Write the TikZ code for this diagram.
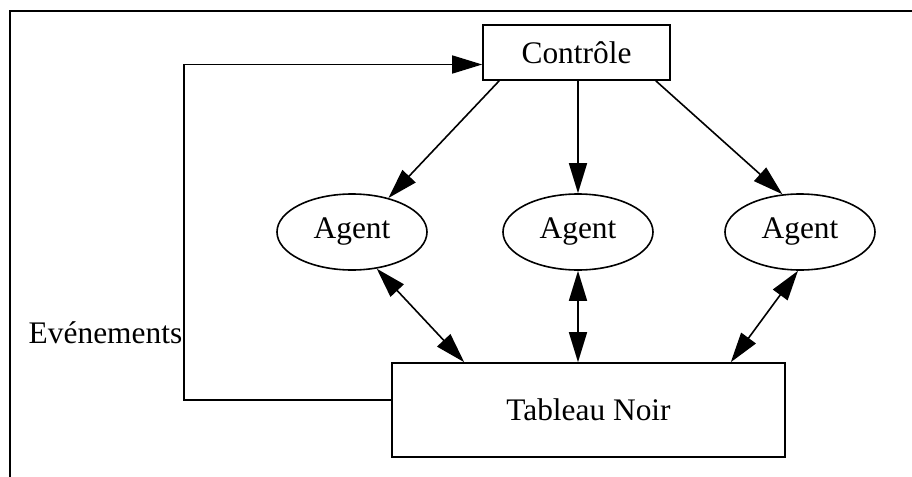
\documentclass[tikz,border=0pt]{standalone}
\usepackage{fontspec}
\setmainfont{Liberation Serif}
\usetikzlibrary{positioning,arrows.meta,shapes.geometric,calc}

\begin{document}
\begin{tikzpicture}[x=0.5pt,y=-0.5pt,line width=0.8pt,
    font=\fontsize{15.7}{19}\selectfont,
    boite/.style={draw,rectangle,inner sep=0pt},
    agent/.style={draw,ellipse,inner sep=0pt,minimum width=75pt,minimum height=38pt},
    fleche/.style={-{Triangle[length=15pt,width=9pt]}},
    double fleche/.style={{Triangle[length=15pt,width=9pt]}-{Triangle[length=15pt,width=9pt]}}]
    \useasboundingbox (0,0) rectangle (912,477);
    \draw[line width=1.2pt] (10,477) -- (10,11) -- (912,11);
    \node[boite,minimum width=93.5pt,minimum height=27.5pt] (ctrl) at (576.5,52.5) {Contrôle};
    \node[agent] (a1) at (352,232) {Agent};
    \node[agent] (a2) at (578,232) {Agent};
    \node[agent] (a3) at (800,232) {Agent};
    \node[boite,minimum width=196.5pt,minimum height=47pt] (tab) at (588.5,410) {Tableau Noir};
    \coordinate (coin) at (184,400);
    \coordinate (fb) at ($(ctrl.west)+(0,12)$);
    \node[anchor=base east,inner sep=0pt] (evt) at (183,343) {Evénements};

    \draw[fleche] ($(ctrl.south west)+(17,0)$) -- (a1.43);
    \draw[fleche] (a2.north |- ctrl.south) -- (a2.north);
    \draw[fleche] ($(ctrl.south east)+(-15,0)$) -- (a3.115);
    \draw[double fleche] (a1.-56) -- ($(tab.north west)+(73,0)$);
    \draw[double fleche] (a2.south) -- (tab.north -| a2.south);
    \draw[double fleche] (a3.-93) -- ($(tab.north east)+(-55,0)$);
    \draw[fleche] (tab.west |- coin) -- (coin) |- (fb);
\end{tikzpicture}
\end{document}
